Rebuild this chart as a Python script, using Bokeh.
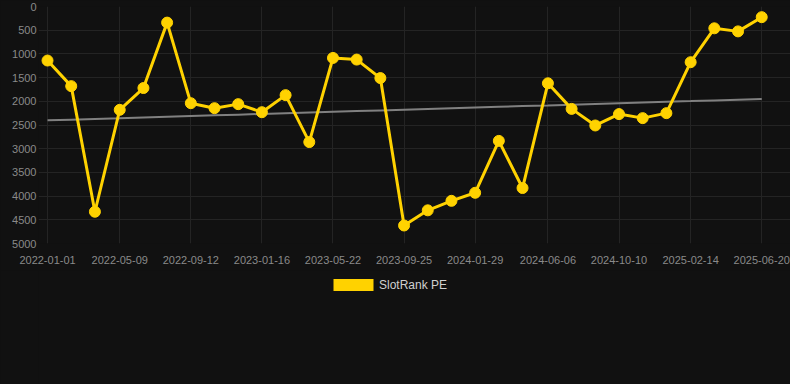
import numpy as np
import pandas as pd
from bokeh.plotting import figure
from bokeh.layouts import column
from bokeh.models import (Range1d, FixedTicker, DatetimeTickFormatter, Legend,
                          LegendItem, ColumnDataSource, SingleIntervalTicker)
from bokeh.embed import file_html
from bokeh.resources import INLINE

# ---- data ----
dates = ["2022-01-01", "2022-02-12", "2022-03-26", "2022-05-09", "2022-06-20",
         "2022-08-01", "2022-09-12", "2022-10-24", "2022-12-05", "2023-01-16",
         "2023-02-27", "2023-04-10", "2023-05-22", "2023-07-03", "2023-08-14",
         "2023-09-25", "2023-11-06", "2023-12-18", "2024-01-29", "2024-03-11",
         "2024-04-22", "2024-06-06", "2024-07-18", "2024-08-29", "2024-10-10",
         "2024-11-21", "2025-01-02", "2025-02-14", "2025-03-28", "2025-05-09",
         "2025-06-20"]
rank = [1140, 1680, 4330, 2180, 1720, 340, 2040, 2145, 2060, 2230,
        1870, 2860, 1085, 1120, 1510, 4620, 4300, 4100, 3930, 2835,
        3830, 1620, 2160, 2510, 2270, 2355, 2250, 1175, 460, 525, 225]
x_tick_labels = ["2022-01-01", "2022-05-09", "2022-09-12", "2023-01-16",
                 "2023-05-22", "2023-09-25", "2024-01-29", "2024-06-06",
                 "2024-10-10", "2025-02-14", "2025-06-20"]
series_name = "SlotRank PE"

GOLD = "#FFD200"
BG = "#111111"
FONT = "Liberation Sans"

x = pd.to_datetime(dates)
src = ColumnDataSource(dict(x=x, y=rank))

# linear trend
idx = np.arange(len(rank))
k, b = np.polyfit(idx, np.array(rank, dtype=float), 1)
trend = k * idx + b
tsrc = ColumnDataSource(dict(x=x, y=trend))

x_start = x[0] - pd.Timedelta(days=16)
x_end = x[-1] + pd.Timedelta(days=51)

fig = figure(width=790, height=270, output_backend="svg", toolbar_location=None,
             x_axis_type="datetime",
             x_range=Range1d(x_start, x_end), y_range=Range1d(5000, 0),
             min_border_left=38, min_border_right=0, min_border_top=6,
             min_border_bottom=27)
fig.background_fill_color = BG
fig.border_fill_color = BG
fig.outline_line_color = None

# grid
fig.xgrid.grid_line_color = "#242424"
fig.ygrid.grid_line_color = "#242424"

# axes
tick_ms = [pd.Timestamp(t).value / 1e6 for t in x_tick_labels]
fig.xaxis.ticker = FixedTicker(ticks=tick_ms)
fmt = "%Y-%m-%d"
fig.xaxis.formatter = DatetimeTickFormatter(days=fmt, months=fmt, years=fmt,
                                            hours=fmt, minutes=fmt, seconds=fmt,
                                            milliseconds=fmt, microseconds=fmt,
                                            hourmin=fmt, minsec=fmt)
fig.yaxis.ticker = SingleIntervalTicker(interval=500)
for ax in (fig.xaxis, fig.yaxis):
    ax.axis_line_color = None
    ax.major_tick_line_color = None
    ax.minor_tick_line_color = None
    ax.major_tick_out = 0
    ax.major_tick_in = 0
    ax.minor_tick_out = 0
    ax.major_label_text_color = "#8a8a8a"
    ax.major_label_text_font = FONT
    ax.major_label_text_font_size = "11px"
fig.xaxis.major_label_standoff = 12
fig.yaxis.major_label_standoff = 2

# trend line
fig.line("x", "y", source=tsrc, line_color="#808080", line_width=2)

# series
fig.line("x", "y", source=src, line_color=GOLD, line_width=3)
fig.scatter("x", "y", source=src, size=11, fill_color=GOLD, line_color=GOLD)

# legend strip below the chart
leg = figure(width=790, height=114, output_backend="svg", toolbar_location=None,
             x_range=Range1d(0, 1), y_range=Range1d(0, 1),
             min_border=0, x_axis_location=None, y_axis_location=None)
leg.background_fill_color = BG
leg.border_fill_color = BG
leg.outline_line_color = None
leg.grid.visible = False
sw = leg.rect(x=[5], y=[5], width=1, height=1, fill_color=GOLD, line_color=None)
legend = Legend(items=[LegendItem(label=series_name, renderers=[sw])],
                location=(290, 92), orientation="horizontal",
                glyph_width=50, glyph_height=15, label_height=15,
                label_standoff=1, padding=0, margin=0, spacing=0,
                border_line_color=None, background_fill_alpha=0,
                label_text_color="#d0d0d0", label_text_font=FONT,
                label_text_font_size="12px")
leg.add_layout(legend, "center")

p = column(fig, leg, spacing=0, styles={"background-color": BG})

open("out.html", "w").write(file_html(p, INLINE))
